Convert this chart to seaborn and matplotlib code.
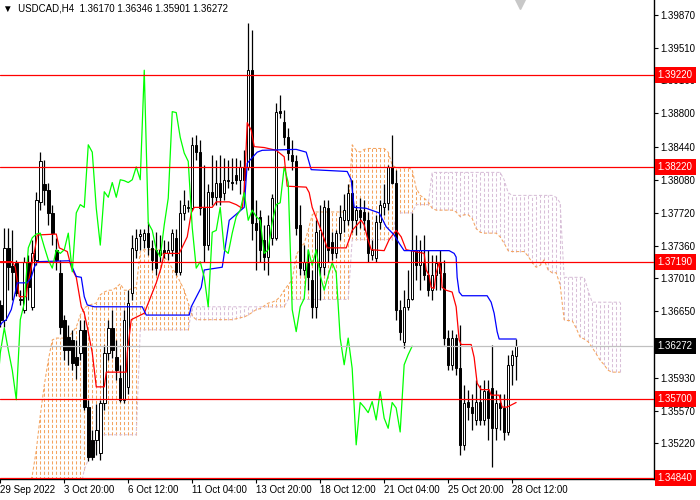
import numpy as np
import matplotlib
matplotlib.use("Agg")
import matplotlib.pyplot as plt
import matplotlib.transforms as mtransforms
import seaborn as sns

# USDCAD H4 candles, bar 0 = 29 Sep 2022 00:00
opens = [1.3672, 1.3656, 1.3734, 1.3714, 1.3718, 1.3677, 1.3667, 1.3719, 1.3670, 1.3721,
         1.3784, 1.3803, 1.3797, 1.3772, 1.3732, 1.3707, 1.3656, 1.3637, 1.3634, 1.3615,
         1.3620, 1.3645, 1.3561, 1.3525, 1.3525, 1.3511, 1.3566, 1.3620, 1.3647, 1.3615,
         1.3593, 1.3569, 1.3583, 1.3685, 1.3732, 1.3747, 1.3743, 1.3750, 1.3734, 1.3732,
         1.3726, 1.3732, 1.3728, 1.3732, 1.3745, 1.3708, 1.3772, 1.3777, 1.3777, 1.3846,
         1.3838, 1.3777, 1.3737, 1.3795, 1.3789, 1.3805, 1.3794, 1.3808, 1.3806, 1.3813,
         1.3808, 1.3822, 1.3822, 1.3927, 1.3761, 1.3768, 1.3743, 1.3724, 1.3745, 1.3745,
         1.3883, 1.3871, 1.3854, 1.3835, 1.3828, 1.3759, 1.3710, 1.3718, 1.3699, 1.3670,
         1.3713, 1.3713, 1.3777, 1.3740, 1.3728, 1.3750, 1.3764, 1.3764, 1.3794, 1.3764,
         1.3775, 1.3773, 1.3764, 1.3726, 1.3723, 1.3762, 1.3778, 1.3783, 1.3822, 1.3805,
         1.3667, 1.3632, 1.3670, 1.3679, 1.3732, 1.3715, 1.3718, 1.3704, 1.3688, 1.3704,
         1.3718, 1.3707, 1.3636, 1.3607, 1.3636, 1.3603, 1.3520, 1.3567, 1.3561, 1.3547,
         1.3567, 1.3547, 1.3578, 1.3582, 1.3538, 1.3566, 1.3560, 1.3534, 1.3607, 1.36170]
highs = [1.3677, 1.3756, 1.3756, 1.3753, 1.3721, 1.3688, 1.3724, 1.3726, 1.3743, 1.3795,
         1.3838, 1.3830, 1.3805, 1.3781, 1.3745, 1.3721, 1.3661, 1.3650, 1.3645, 1.3634,
         1.3656, 1.3656, 1.3569, 1.3536, 1.3564, 1.3569, 1.3629, 1.3656, 1.3667, 1.3634,
         1.3607, 1.3667, 1.3688, 1.3748, 1.3755, 1.3755, 1.3755, 1.3762, 1.3743, 1.3751,
         1.3748, 1.3743, 1.3741, 1.3755, 1.3755, 1.3786, 1.3797, 1.3786, 1.3854, 1.3857,
         1.3851, 1.3824, 1.3803, 1.3835, 1.3830, 1.3835, 1.3832, 1.3830, 1.3832, 1.3832,
         1.3830, 1.3840, 1.3978, 1.3971, 1.3786, 1.3775, 1.3759, 1.3770, 1.3792, 1.3891,
         1.3900, 1.3884, 1.3864, 1.3851, 1.3835, 1.3781, 1.3737, 1.3732, 1.3710, 1.3764,
         1.3781, 1.3786, 1.3786, 1.3751, 1.3753, 1.3781, 1.3792, 1.3803, 1.3808, 1.3781,
         1.3788, 1.3786, 1.3773, 1.3743, 1.3770, 1.3786, 1.3803, 1.3824, 1.3857, 1.3819,
         1.3677, 1.3688, 1.3710, 1.3772, 1.3748, 1.3743, 1.3748, 1.3732, 1.3726, 1.3726,
         1.3732, 1.3721, 1.3645, 1.3645, 1.3640, 1.3650, 1.3585, 1.3580, 1.3575, 1.3590,
         1.3585, 1.3590, 1.3590, 1.3629, 1.3580, 1.3575, 1.3575, 1.3618, 1.3623, 1.36346]
lows = [1.3648, 1.3648, 1.3688, 1.3677, 1.3682, 1.3672, 1.3663, 1.3677, 1.3667, 1.3715,
        1.3775, 1.3781, 1.3759, 1.3737, 1.3710, 1.3640, 1.3612, 1.3607, 1.3601, 1.3592,
        1.3612, 1.3558, 1.3502, 1.3504, 1.3509, 1.3504, 1.3558, 1.3612, 1.3614, 1.3590,
        1.3567, 1.3566, 1.3575, 1.3677, 1.3723, 1.3732, 1.3734, 1.3726, 1.3710, 1.3704,
        1.3719, 1.3723, 1.3721, 1.3725, 1.3704, 1.3704, 1.3764, 1.3773, 1.3775, 1.3830,
        1.3770, 1.3719, 1.3732, 1.3781, 1.3781, 1.3781, 1.3786, 1.3799, 1.3797, 1.3803,
        1.3792, 1.3786, 1.3819, 1.3743, 1.3710, 1.3719, 1.3710, 1.3704, 1.3737, 1.3743,
        1.3875, 1.3846, 1.3830, 1.3819, 1.3748, 1.3704, 1.3704, 1.3688, 1.3658, 1.3658,
        1.3677, 1.3704, 1.3719, 1.3721, 1.3723, 1.3743, 1.3751, 1.3759, 1.3751, 1.3748,
        1.3756, 1.3753, 1.3719, 1.3721, 1.3719, 1.3755, 1.3770, 1.3775, 1.3803, 1.3656,
        1.3634, 1.3625, 1.3667, 1.3677, 1.3699, 1.3688, 1.3699, 1.3682, 1.3677, 1.3688,
        1.3688, 1.3629, 1.3601, 1.3601, 1.3596, 1.3509, 1.3514, 1.3547, 1.3536, 1.3542,
        1.3542, 1.3542, 1.3525, 1.3496, 1.3525, 1.3536, 1.3525, 1.3531, 1.3585, 1.35901]
closes = [1.3656, 1.3734, 1.3713, 1.3708, 1.3685, 1.3679, 1.3719, 1.3691, 1.3728, 1.3786,
          1.3828, 1.3797, 1.3772, 1.3750, 1.3721, 1.3648, 1.3623, 1.3623, 1.3609, 1.3607,
          1.3645, 1.3561, 1.3507, 1.3507, 1.3536, 1.3566, 1.3620, 1.3647, 1.3623, 1.3601,
          1.3569, 1.3656, 1.3674, 1.3734, 1.3745, 1.3749, 1.3750, 1.3735, 1.3721, 1.3712,
          1.3732, 1.3728, 1.3732, 1.3750, 1.3708, 1.3772, 1.3781, 1.3778, 1.3846, 1.3838,
          1.3777, 1.3737, 1.3795, 1.3789, 1.3805, 1.3789, 1.3808, 1.3807, 1.3805, 1.3808,
          1.3822, 1.3808, 1.3927, 1.3761, 1.3753, 1.3732, 1.3724, 1.3759, 1.3788, 1.3882,
          1.3881, 1.3854, 1.3837, 1.3828, 1.3756, 1.3712, 1.3719, 1.3702, 1.3670, 1.3751,
          1.3753, 1.3778, 1.3732, 1.3728, 1.3750, 1.3768, 1.3775, 1.3794, 1.3764, 1.3775,
          1.3768, 1.3764, 1.3728, 1.3732, 1.3762, 1.3781, 1.3783, 1.3822, 1.3805, 1.3667,
          1.3643, 1.3670, 1.3679, 1.3732, 1.3715, 1.3732, 1.3704, 1.3688, 1.3704, 1.3718,
          1.3707, 1.3636, 1.3607, 1.3636, 1.3603, 1.3520, 1.3566, 1.3561, 1.3555, 1.3567,
          1.3547, 1.3578, 1.3549, 1.3538, 1.3566, 1.3560, 1.3534, 1.3607, 1.3618, 1.36272]

# Ichimoku lines (bar index, price)
tenkan_x = [0, 3, 3.75, 4.75, 6.5, 6.75, 7.75, 8.75, 9.25, 14, 14.75, 16.75, 17.75, 19,
            20.25, 21, 21.75, 23, 24, 26, 26.5, 31.5, 31.75, 32.75, 36, 39, 40.25, 41,
            44.75, 46.75, 47.75, 48.5, 53, 54, 57.25, 59, 60.5, 61, 61.5, 61.75, 62.75,
            63.5, 66, 69, 71, 71.75, 76.5, 77.25, 78, 79.25, 80.5, 81.75, 86.5, 87.25, 88,
            90.25, 91, 91.75, 92.75, 96, 97.25, 99, 100.25, 101.5, 106, 106.5, 107.25,
            107.75, 108.5, 109, 109.75, 110.25, 110.5, 111.5, 113, 114, 114.75, 115.25,
            117.75, 118.5, 119.25, 120.25, 122.25, 122.75, 124.75, 125.5, 126.75, 129]
tenkan_y = [1.3719, 1.3719, 1.3713, 1.3681, 1.3681, 1.3691, 1.3713, 1.3735, 1.3748, 1.3749,
            1.3734, 1.3730, 1.3713, 1.3702, 1.3670, 1.3663, 1.3648, 1.3620, 1.3583, 1.3583,
            1.3599, 1.3599, 1.3620, 1.3656, 1.3663, 1.3696, 1.3713, 1.3728, 1.3728, 1.3746,
            1.3772, 1.3778, 1.3778, 1.3784, 1.3784, 1.3781, 1.3777, 1.3797, 1.3844, 1.3870,
            1.3862, 1.3844, 1.3843, 1.3840, 1.3833, 1.3801, 1.3800, 1.3794, 1.3778, 1.3764,
            1.3750, 1.3734, 1.3734, 1.3743, 1.3753, 1.3764, 1.3759, 1.3746, 1.3732, 1.3731,
            1.3743, 1.3753, 1.3746, 1.3732, 1.3728, 1.3710, 1.3704, 1.3691, 1.3690, 1.3707,
            1.3718, 1.3707, 1.3691, 1.3688, 1.3686, 1.3670, 1.3634, 1.3629, 1.3629, 1.3615,
            1.3587, 1.3580, 1.3580, 1.3574, 1.3574, 1.3561, 1.3561, 1.3566]
kijun_x = [0, 0.5, 1.5, 2.75, 3.5, 4.25, 6.75, 7.75, 8.5, 9.25, 17.25, 18, 19, 20.25, 21,
           21.75, 23.5, 35.5, 36.5, 47.25, 47.75, 50.25, 51, 55.5, 57.25, 61, 61.75, 64.25,
           65.5, 74, 76.5, 77.75, 86.75, 87.75, 88.5, 91.5, 94.75, 96.5, 98.5, 99.75, 101,
           112.25, 113.5, 114, 114.25, 114.75, 115.5, 121.75, 122.75, 123.5, 124.25, 124.75,
           129]
kijun_y = [1.3650, 1.3653, 1.3656, 1.3667, 1.3681, 1.3696, 1.3696, 1.3702, 1.3713, 1.3719,
           1.3720, 1.3713, 1.3703, 1.3702, 1.3681, 1.3672, 1.3670, 1.3670, 1.3661, 1.3661,
           1.3670, 1.3691, 1.3710, 1.3713, 1.3764, 1.3778, 1.3826, 1.3838, 1.3840, 1.3841,
           1.3838, 1.3819, 1.3817, 1.3808, 1.3778, 1.3777, 1.3772, 1.3757, 1.3748, 1.3739,
           1.3731, 1.3731, 1.3728, 1.3724, 1.3702, 1.3686, 1.3682, 1.3682, 1.3675, 1.3663,
           1.3643, 1.3635, 1.3635]
chikou_shift = 26

# Senkou spans, one value per bar starting at bar 7 (cloud runs 26 bars ahead)
span_start = 7
span_a = [1.3471, 1.3487, 1.3514, 1.3552, 1.3585, 1.3612, 1.3634, 1.3636, 1.3636, 1.3636,
          1.3637, 1.3642, 1.3648, 1.3661, 1.3669, 1.3671, 1.3673, 1.3674, 1.3683, 1.3686,
          1.3688, 1.3688, 1.3691, 1.3695, 1.3688, 1.3688, 1.3690, 1.3691,
          1.3730, 1.3732, 1.3732, 1.3732, 1.3732, 1.3732, 1.3724, 1.3719, 1.3712, 1.3705,
          1.3697, 1.3688, 1.3674, 1.3660, 1.3656,
          1.3656, 1.3656, 1.3656, 1.3656, 1.3656, 1.3656, 1.3656, 1.3656, 1.3656,
          1.3657, 1.3658, 1.3659, 1.3661, 1.3664, 1.3667, 1.3668, 1.3671, 1.3674, 1.3675,
          1.3677, 1.3681, 1.3688, 1.3694, 1.3699, 1.3726, 1.3734, 1.3739, 1.3753, 1.3770,
          1.3773, 1.3773, 1.3773, 1.3773, 1.3773, 1.3773, 1.3773, 1.3773, 1.3773,
          1.3846, 1.3840, 1.3838, 1.3841,
          1.3842, 1.3842, 1.3842, 1.3842, 1.3842,
          1.3838, 1.3824,
          1.3821, 1.3821, 1.3821, 1.3821,
          1.3819, 1.3799, 1.3791, 1.3788, 1.3784, 1.3777,
          1.3775, 1.3775, 1.3775, 1.3775, 1.3775,
          1.3773, 1.3768, 1.3770, 1.3770, 1.3766, 1.3755, 1.3751,
          1.3750, 1.3750, 1.3750, 1.3750,
          1.3746, 1.3739, 1.3731,
          1.3730, 1.3730, 1.3730, 1.3730,
          1.3725, 1.3718, 1.3713, 1.3715, 1.3721, 1.3710, 1.3707, 1.3707, 1.3694, 1.3656,
          1.3655, 1.3655, 1.3647, 1.3637, 1.3635, 1.3632, 1.3626, 1.3619, 1.3612, 1.3607,
          1.3601,
          1.3599, 1.3599, 1.3599]
span_b = [1.3471, 1.3471, 1.3471, 1.3471, 1.3471, 1.3471, 1.3471, 1.3471, 1.3471, 1.3471,
          1.3471, 1.3471, 1.3471, 1.3471,
          1.3493, 1.3504, 1.3514, 1.3525,
          1.3531, 1.3531, 1.3531, 1.3531, 1.3531, 1.3531, 1.3531, 1.3531, 1.3531, 1.3531,
          1.3645, 1.3645, 1.3645, 1.3645, 1.3645, 1.3645, 1.3645, 1.3645, 1.3645, 1.3645,
          1.3645, 1.3645, 1.3645,
          1.3670, 1.3670, 1.3670, 1.3670, 1.3670, 1.3670, 1.3670, 1.3670, 1.3670, 1.3670,
          1.3670, 1.3670, 1.3670, 1.3670, 1.3670, 1.3670, 1.3670, 1.3670, 1.3670, 1.3670,
          1.3670, 1.3670, 1.3670, 1.3670,
          1.3678, 1.3678, 1.3678, 1.3678, 1.3678, 1.3678, 1.3678, 1.3678, 1.3678, 1.3678,
          1.3678, 1.3678, 1.3678, 1.3678, 1.3678, 1.3678,
          1.3743, 1.3743, 1.3743, 1.3743, 1.3743, 1.3743, 1.3743, 1.3743, 1.3743, 1.3743,
          1.3743,
          1.3772, 1.3772, 1.3772, 1.3772, 1.3772,
          1.3781, 1.3781, 1.3781, 1.3781,
          1.3816, 1.3816, 1.3816, 1.3816, 1.3816, 1.3816, 1.3816, 1.3816, 1.3816, 1.3816,
          1.3816, 1.3816, 1.3816, 1.3816, 1.3816, 1.3816, 1.3816, 1.3816,
          1.3808, 1.3794,
          1.3791, 1.3791, 1.3791, 1.3791, 1.3791, 1.3791, 1.3791, 1.3791, 1.3791, 1.3791,
          1.3791,
          1.3789, 1.3783,
          1.3702, 1.3702, 1.3702, 1.3702, 1.3702, 1.3702,
          1.3688,
          1.3675, 1.3675, 1.3675, 1.3675, 1.3675, 1.3675, 1.3675, 1.3675]

levels = [1.39220, 1.38220, 1.37190, 1.35700, 1.34840]
bid = 1.36272

# ticks hidden under the price tags are left out
ytick_vals = [1.39870, 1.39510, 1.39160, 1.38800, 1.38440, 1.38080, 1.37720, 1.37360,
              1.37010, 1.36650, 1.35930, 1.35570, 1.35220]
xtick_pos = [0, 16, 32, 48, 64, 80, 96, 112, 128]
xtick_labels = ["29 Sep 2022", "3 Oct 20:00", "6 Oct 12:00", "11 Oct 04:00", "13 Oct 20:00",
                "18 Oct 12:00", "21 Oct 04:00", "25 Oct 20:00", "28 Oct 12:00"]

sns.set_style("white")
plt.rcParams["font.family"] = ["Liberation Sans", "DejaVu Sans"]

fig = plt.figure(figsize=(7, 5), dpi=100)
ax = fig.add_axes([0, 0.042, 0.934, 0.958])

o = np.array(opens)
h = np.array(highs)
l = np.array(lows)
c = np.array(closes)
idx = np.arange(len(c))

# cloud hatch
a = np.array(span_a)
b = np.array(span_b)
sx = np.arange(span_start, span_start + len(a))
hatch_cols = ["#F4A460" if aa >= bb else "#D8BFD8" for aa, bb in zip(a, b)]
ax.vlines(sx, np.minimum(a, b), np.maximum(a, b), colors=hatch_cols,
          linestyles=(0, (3, 2)), linewidth=0.75, zorder=1)
sns.lineplot(x=sx, y=a, ax=ax, color="#F4A460", linewidth=0.75,
             linestyle=(0, (3, 2)), sort=False, estimator=None, zorder=1.2)
sns.lineplot(x=sx, y=b, ax=ax, color="#D8BFD8", linewidth=0.75,
             linestyle=(0, (3, 2)), sort=False, estimator=None, zorder=1.2)

# candles
ax.vlines(idx, l, h, color="black", linewidth=0.9, zorder=2)
body_lo = np.minimum(o, c)
body_h = np.maximum(np.abs(c - o), 0.00003)
face = ["white" if cc >= oo else "black" for oo, cc in zip(o, c)]
ax.bar(idx, body_h, bottom=body_lo, width=0.62, color=face, edgecolor="black",
       linewidth=0.7, zorder=2.1)

# ichimoku lines
sns.lineplot(x=tenkan_x, y=tenkan_y, ax=ax, color="#FF0000", linewidth=0.9,
             sort=False, estimator=None, zorder=3)
sns.lineplot(x=kijun_x, y=kijun_y, ax=ax, color="#0000FF", linewidth=0.9,
             sort=False, estimator=None, zorder=3)
sns.lineplot(x=idx - chikou_shift, y=c, ax=ax, color="#00FF00", linewidth=0.9,
             sort=False, estimator=None, zorder=3)

# horizontal levels and bid line
for lv in levels:
    ax.axhline(lv, color="#FF0000", linewidth=0.9, zorder=4)
ax.axhline(bid, color="#C0C0C0", linewidth=0.9, zorder=3.5)

ax.set_xlim(-0.075, 163.43)
ax.set_ylim(1.34829, 1.40033)

ax.yaxis.tick_right()
ax.set_yticks(ytick_vals)
ax.set_yticklabels([f"{v:.5f}" for v in ytick_vals])
ax.set_xticks(xtick_pos)
ax.set_xticklabels(xtick_labels)
plt.setp(ax.get_xticklabels(), ha="left")
ax.tick_params(axis="both", direction="out", length=3, width=0.8, labelsize=7,
               color="black", labelcolor="black")
ax.tick_params(axis="y", pad=2, right=True, left=False)
ax.tick_params(axis="x", pad=1.5, bottom=True)
ax.set_xlabel("")
ax.set_ylabel("")

for side in ["left", "top"]:
    ax.spines[side].set_visible(False)
for side in ["right", "bottom"]:
    ax.spines[side].set_visible(True)
    ax.spines[side].set_color("black")
    ax.spines[side].set_linewidth(1.0)

# price tags on the right scale
tr = mtransforms.blended_transform_factory(ax.transAxes, ax.transData)
for lv in levels:
    ax.text(1.006, lv, f"{lv:.5f}", transform=tr, ha="left", va="center", fontsize=7,
            color="white", zorder=6, clip_on=False,
            bbox=dict(boxstyle="square,pad=0.3", fc="#FF0000", ec="none"))
ax.text(1.006, bid, f"{bid:.5f}", transform=tr, ha="left", va="center", fontsize=7,
        color="white", zorder=6, clip_on=False,
        bbox=dict(boxstyle="square,pad=0.3", fc="black", ec="none"))

# header and shift marker
ax.text(0.004, 0.983, "\u25bc  USDCAD,H4  1.36170 1.36346 1.35901 1.36272",
        transform=ax.transAxes, ha="left", va="center", fontsize=7, color="black", zorder=7)
trx = mtransforms.blended_transform_factory(ax.transData, ax.transAxes)
ax.plot([130], [0.993], marker="v", markersize=8, color="#C8C8C8", transform=trx,
        clip_on=False, zorder=7)

fig.savefig("out.png", dpi=100)
